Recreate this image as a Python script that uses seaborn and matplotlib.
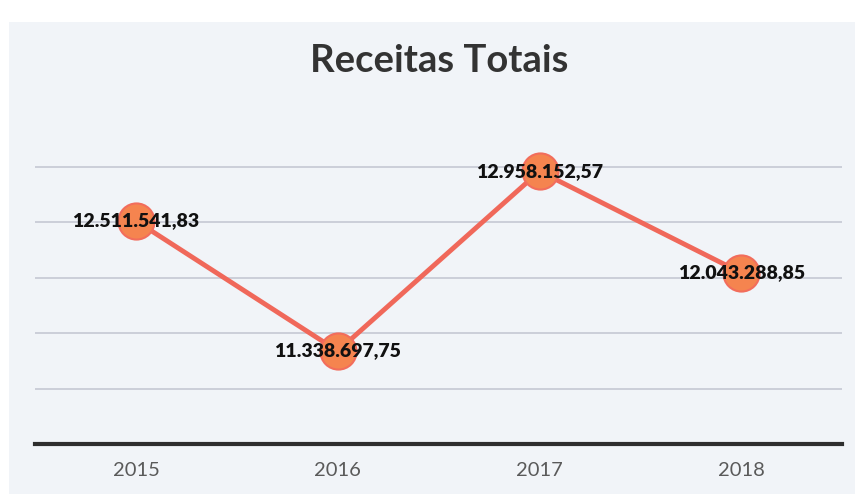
import matplotlib
matplotlib.use("Agg")
import matplotlib.pyplot as plt
import seaborn as sns
import numpy as np
import pandas as pd
from matplotlib.patches import Rectangle

# Data
years = ["2015", "2016", "2017", "2018"]
receitas = [12511541.83, 11338697.75, 12958152.57, 12043288.85]
labels = ["12.511.541,83", "11.338.697,75", "12.958.152,57", "12.043.288,85"]

sns.set_theme(style="white")
plt.rcParams["font.family"] = ["Lato", "DejaVu Sans"]

df = pd.DataFrame({"pos": np.arange(len(years)), "valor": receitas})

fig = plt.figure(figsize=(8.55, 4.94), dpi=100, facecolor="white")
# light tinted panel like the slide background
fig.patches.append(Rectangle((0.01, 0.0), 0.99, 0.955, transform=fig.transFigure,
                             facecolor="#f1f4f8", edgecolor="none", zorder=0))
ax = fig.add_axes([0.041, 0.101, 0.944, 0.674])
ax.set_zorder(2)
ax.set_facecolor("none")

sns.lineplot(data=df, x="pos", y="valor", ax=ax, color="#f0685a", linewidth=3.5,
             marker="o", markersize=26, markerfacecolor="#f5844f",
             markeredgecolor="#f26d5c", markeredgewidth=1.5, zorder=3)

for x, y, t in zip(df["pos"], df["valor"], labels):
    ax.text(x, y, t, ha="center", va="center", fontsize=14, fontweight="heavy",
            color="#111111", zorder=4)

ax.set_xlim(-0.5, len(years) - 0.5)
ax.set_ylim(10.5e6, 13.5e6)
ax.set_yticks(np.arange(11.0e6, 13.01e6, 0.5e6))
ax.yaxis.grid(True, color="#c5c8d3", linewidth=1.2)
ax.tick_params(axis="y", left=False, labelleft=False)
ax.set_xticks(df["pos"])
ax.set_xticklabels(years, fontsize=14.5, color="#5a5a5a")
ax.tick_params(axis="x", bottom=False, pad=7)
ax.set_xlabel("")
ax.set_ylabel("")
for s in ["top", "right", "left"]:
    ax.spines[s].set_visible(False)
ax.spines["bottom"].set_color("#2e2e2e")
ax.spines["bottom"].set_linewidth(3)

fig.text(0.514, 0.877, "Receitas Totais", ha="center", va="center",
         fontsize=27.5, fontweight="bold", color="#333333", zorder=3)

fig.savefig("out.png", dpi=100, facecolor=fig.get_facecolor())
